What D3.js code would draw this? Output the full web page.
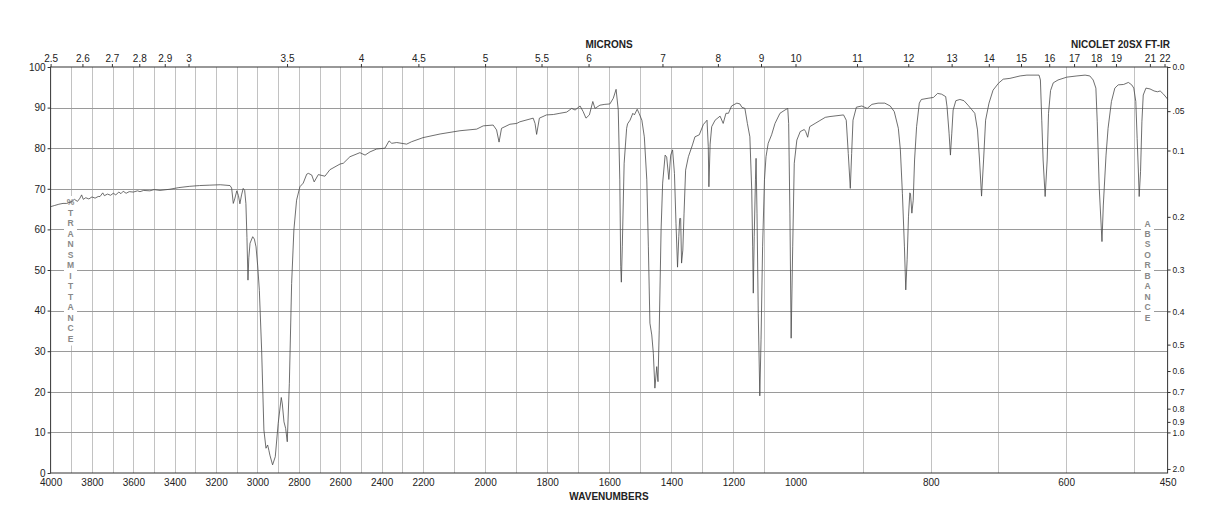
<!DOCTYPE html>
<html>
<head>
<meta charset="utf-8">
<script src="https://cdn.jsdelivr.net/npm/d3@7"></script>
<style>
	body { margin: 0; background: #fff; }
	svg text { font-family: 'Liberation Sans', Arial, sans-serif; fill: #222; }
	.axis text { font-size: 10px; }
	.axis line { stroke: #333; }
	.axis.abs text { font-size: 8.5px; }
	.title { font-size: 10px; font-weight: bold; }
	.side { font-size: 8.5px; font-weight: bold; fill: #888; }
	.hgrid line { stroke: #9a9a9a; }
	.vgrid line { stroke: #c2c2c2; }
</style>
</head>
<body>
<svg id="chart" width="1218" height="528"></svg>
<script>
// spectrum (cm-1 / %T)
const wavenumbers = [
	4000, 3980, 3960, 3940, 3922, 3900, 3885, 3870, 3858, 3850,
	3842, 3830, 3815, 3800, 3785, 3770, 3761, 3748, 3740, 3725,
	3710, 3697, 3685, 3670, 3660, 3649, 3635, 3620, 3600, 3580,
	3568, 3550, 3520, 3500, 3471, 3423, 3380, 3330, 3280, 3230,
	3180, 3133, 3125, 3117, 3110, 3100, 3092, 3085, 3077, 3069,
	3062, 3056, 3051, 3046, 3042, 3036, 3023, 3015, 3007, 2999,
	2991, 2980, 2969, 2959, 2951, 2945, 2940, 2927, 2914, 2900,
	2885, 2880, 2872, 2864, 2856, 2846, 2835, 2824, 2811, 2795,
	2779, 2762, 2754, 2738, 2726, 2706, 2674, 2650, 2601, 2585,
	2553, 2505, 2480, 2456, 2424, 2384, 2364, 2351, 2327, 2279,
	2255, 2200, 2145, 2081, 2027, 2006, 1974, 1963, 1955, 1947,
	1920, 1898, 1888, 1845, 1839, 1834, 1825, 1802, 1780, 1759,
	1737, 1721, 1710, 1694, 1684, 1675, 1664, 1653, 1646, 1630,
	1614, 1598, 1587, 1578, 1571, 1566, 1563, 1561, 1558, 1552,
	1544, 1541, 1533, 1524, 1519, 1510, 1504, 1495, 1487, 1479,
	1474, 1469, 1463, 1458, 1453, 1447, 1443, 1439, 1433, 1428,
	1420, 1415, 1408, 1402, 1396, 1390, 1385, 1380, 1376, 1373,
	1370, 1367, 1363, 1359, 1354, 1345, 1332, 1324, 1310, 1297,
	1285, 1281, 1279, 1275, 1270, 1259, 1243, 1233, 1224, 1216,
	1206, 1189, 1179, 1173, 1163, 1155, 1147, 1141, 1138, 1136,
	1133, 1129, 1127, 1124, 1120, 1115, 1111, 1106, 1100, 1095,
	1088, 1077, 1066, 1050, 1034, 1025, 1022, 1018, 1014, 1009,
	1004, 998, 993, 987, 985, 982, 979, 971, 964, 956,
	949, 929, 925, 922, 919, 917, 915, 910, 902, 894,
	887, 878, 868, 860, 854, 848, 845, 842, 839, 837,
	835, 833, 831, 830, 828, 826, 824, 821, 817, 814,
	804, 796, 790, 784, 778, 776, 773, 771, 769, 767,
	763, 757, 751, 745, 740, 735, 731, 728, 725, 722,
	719, 714, 708, 700, 693, 683, 668, 658, 649, 640,
	638, 636, 634, 631, 628, 626, 623, 619, 612, 599,
	584, 572, 565, 560, 556, 554, 551, 547, 545, 541,
	538, 533, 528, 523, 515, 508, 503, 500, 497, 495,
	493, 492, 490, 488, 486, 482, 476, 470, 465, 461,
	456, 451, 450
]
const transmittance = [
	65.6, 65.9, 66.2, 66.4, 66.4, 66.8, 67.4, 66.9, 67.7, 68.5,
	67.4, 67.8, 67.5, 68.0, 67.7, 68.1, 68.1, 69.0, 68.3, 68.7,
	68.4, 68.9, 68.5, 69.2, 68.8, 69.4, 68.9, 69.3, 69.2, 69.5,
	69.3, 69.6, 69.5, 69.8, 69.6, 69.9, 70.3, 70.6, 70.8, 70.9,
	71.0, 70.8, 70.2, 66.4, 67.5, 69.5, 68.3, 66.3, 68.5, 70.1,
	69.6, 66.4, 58.0, 47.5, 53.0, 56.6, 58.2, 57.6, 55.7, 51.0,
	45.0, 30.3, 10.6, 6.1, 6.9, 5.6, 4.4, 2.0, 4.0, 12.2,
	18.6, 17.0, 12.6, 11.0, 7.7, 22.1, 46.7, 59.9, 67.2, 70.5,
	71.4, 73.6, 73.8, 73.4, 71.7, 73.5, 73.1, 74.7, 76.1, 76.3,
	77.9, 78.9, 78.3, 79.1, 79.8, 80.0, 81.8, 81.2, 81.4, 81.0,
	81.6, 82.6, 83.5, 84.3, 84.7, 85.5, 85.7, 84.5, 81.5, 84.9,
	85.9, 86.1, 86.5, 87.4, 86.1, 83.4, 87.4, 88.2, 88.3, 88.6,
	88.9, 89.8, 89.4, 90.4, 89.0, 87.4, 88.2, 91.5, 89.8, 90.6,
	90.8, 90.9, 92.3, 94.5, 89.4, 72.2, 50.8, 47.0, 55.7, 76.3,
	84.9, 86.0, 86.9, 88.6, 88.2, 89.6, 88.6, 86.9, 82.8, 72.2,
	55.7, 36.9, 34.0, 29.5, 20.9, 26.2, 22.5, 35.2, 59.9, 71.4,
	78.3, 77.8, 72.3, 78.3, 79.6, 73.8, 61.5, 50.7, 58.2, 62.7,
	62.7, 51.7, 54.9, 64.0, 74.6, 77.9, 80.8, 82.8, 83.3, 85.8,
	86.9, 80.4, 70.5, 81.0, 85.3, 86.9, 87.9, 86.1, 88.6, 88.6,
	90.4, 91.1, 90.9, 90.1, 89.8, 86.1, 82.8, 69.7, 55.7, 44.3,
	58.2, 72.2, 77.5, 64.0, 39.3, 19.0, 32.8, 55.7, 72.2, 77.9,
	81.2, 83.3, 86.1, 88.6, 89.4, 89.8, 86.1, 64.0, 33.2, 55.7,
	76.3, 82.0, 84.1, 84.6, 84.1, 82.7, 85.3, 86.1, 86.8, 87.6,
	87.8, 88.2, 86.9, 78.7, 70.1, 78.7, 86.9, 90.1, 90.4, 89.8,
	90.8, 91.1, 91.1, 90.4, 89.0, 84.9, 79.6, 68.9, 55.7, 45.1,
	52.5, 63.1, 69.0, 68.7, 64.0, 67.2, 77.1, 85.3, 91.1, 92.0,
	92.3, 92.5, 93.5, 93.3, 92.7, 90.2, 83.7, 78.3, 83.7, 89.4,
	91.7, 92.0, 91.7, 90.6, 89.6, 88.6, 84.5, 77.1, 68.2, 77.1,
	86.9, 91.1, 94.3, 96.0, 97.0, 97.2, 97.8, 98.0, 98.0, 98.0,
	96.8, 86.9, 77.1, 68.1, 77.1, 88.6, 94.2, 96.1, 96.8, 97.5,
	97.8, 98.0, 97.8, 96.8, 94.8, 86.5, 70.1, 57.0, 66.0, 78.3,
	84.9, 91.5, 94.8, 95.6, 95.7, 96.2, 95.6, 94.8, 91.5, 82.4,
	73.4, 68.1, 74.2, 86.5, 93.1, 94.8, 94.6, 94.1, 93.9, 94.1,
	93.3, 92.3, 92.0
]

// axis labels
const wavenumberTicks = [4000, 3800, 3600, 3400, 3200, 3000, 2800, 2600, 2400, 2200,
	2000, 1800, 1600, 1400, 1200, 1000, 800, 600, 450]
const micronTicks = [2.5, 2.6, 2.7, 2.8, 2.9, 3, 3.5, 4, 4.5, 5, 5.5, 6,
	7, 8, 9, 10, 11, 12, 13, 14, 15, 16, 17, 18, 19, 21, 22]
const transmittanceTicks = [0, 10, 20, 30, 40, 50, 60, 70, 80, 90, 100]
const absorbanceTicks = [0, 0.05, 0.1, 0.2, 0.3, 0.4, 0.5, 0.6, 0.7, 0.8, 0.9, 1.0, 2.0]
const absorbanceLabels = ['0.0', '.05', '0.1', '0.2', '0.3', '0.4', '0.5', '0.6', '0.7', '0.8', '0.9', '1.0', '2.0']
const leftCaption = ['%', 'T', 'R', 'A', 'N', 'S', 'M', 'I', 'T', 'T', 'A', 'N', 'C', 'E']
const rightCaption = ['A', 'B', 'S', 'O', 'R', 'B', 'A', 'N', 'C', 'E']

const plotLeft = 50.6, plotRight = 1167.6, plotTop = 67, plotBottom = 473

// chart paper: three equal panels, 4000-2200, 2200-1000, 1000-450
const x = d3.scaleLinear()
	.domain([4000, 2200, 1000, 450])
	.range([plotLeft, 423, 795.5, plotRight])
const y = d3.scaleLinear().domain([0, 100]).range([plotBottom, plotTop])

const gridWavenumbers = d3.range(3900, 1000, -100).concat(d3.range(900, 450, -100))

const svg = d3.select('#chart')

// grid
svg.append('g').attr('class', 'vgrid')
	.selectAll('line').data(gridWavenumbers).enter()
	.append('line')
	.attr('x1', d => Math.round(x(d)) + 0.5).attr('x2', d => Math.round(x(d)) + 0.5)
	.attr('y1', plotTop).attr('y2', plotBottom)

svg.append('g').attr('class', 'hgrid')
	.selectAll('line').data(transmittanceTicks.slice(1, -1)).enter()
	.append('line')
	.attr('x1', plotLeft).attr('x2', plotRight)
	.attr('y1', d => Math.round(y(d)) + 0.5).attr('y2', d => Math.round(y(d)) + 0.5)

// stacked side captions, on a white strip that breaks the grid
function sideCaption(letters, cx, y0, step) {
	const g = svg.append('g')
	g.append('rect')
		.attr('x', cx - 6.5).attr('y', y0 - 9)
		.attr('width', 13).attr('height', step * (letters.length - 1) + 13)
		.attr('fill', '#fff')
	g.selectAll('text').data(letters).enter()
		.append('text')
		.attr('class', 'side')
		.attr('x', cx).attr('y', (d, i) => y0 + i * step)
		.attr('text-anchor', 'middle')
		.text(d => d)
}
sideCaption(leftCaption, 70.5, 205, 10.5)
sideCaption(rightCaption, 1147.5, 226.5, 10.45)

// spectrum
const points = wavenumbers.map((w, i) => [w, transmittance[i]])
const line = d3.line().x(d => x(d[0])).y(d => y(d[1]))
svg.append('path')
	.datum(points)
	.attr('d', line)
	.attr('fill', 'none')
	.attr('stroke', '#4a4a4a')
	.attr('stroke-width', 0.8)
	.attr('stroke-linejoin', 'round')

// axes
svg.append('g').attr('class', 'axis')
	.attr('transform', `translate(0,${plotBottom})`)
	.call(d3.axisBottom(x).tickValues(wavenumberTicks).tickSize(0).tickPadding(5.5).tickFormat(d3.format('d')))

svg.append('g').attr('class', 'axis')
	.attr('transform', `translate(0,${plotTop})`)
	.call(d3.axisTop(x).tickValues(micronTicks.map(m => 1e4 / m)).tickSize(3).tickPadding(2.5)
		.tickFormat((d, i) => String(micronTicks[i])))

svg.append('g').attr('class', 'axis')
	.attr('transform', `translate(${plotLeft},0)`)
	.call(d3.axisLeft(y).tickValues(transmittanceTicks).tickSize(3).tickPadding(2))

svg.append('g').attr('class', 'axis abs')
	.attr('transform', `translate(${plotRight},0)`)
	.call(d3.axisRight(y).tickValues(absorbanceTicks.map(a => 100 * Math.pow(10, -a))).tickSize(3).tickPadding(2)
		.tickFormat((d, i) => absorbanceLabels[i]))

svg.selectAll('.axis .domain').remove()

// frame
svg.append('rect')
	.attr('x', plotLeft).attr('y', plotTop)
	.attr('width', plotRight - plotLeft).attr('height', plotBottom - plotTop)
	.attr('fill', 'none').attr('stroke', '#333').attr('stroke-width', 1)

// titles
svg.append('text').attr('class', 'title').attr('x', 609).attr('y', 48).attr('text-anchor', 'middle').text('MICRONS')
svg.append('text').attr('class', 'title').attr('x', 1170).attr('y', 48).attr('text-anchor', 'end').text('NICOLET 20SX FT-IR')
svg.append('text').attr('class', 'title').attr('x', 609).attr('y', 500).attr('text-anchor', 'middle').text('WAVENUMBERS')
</script>
</body>
</html>
